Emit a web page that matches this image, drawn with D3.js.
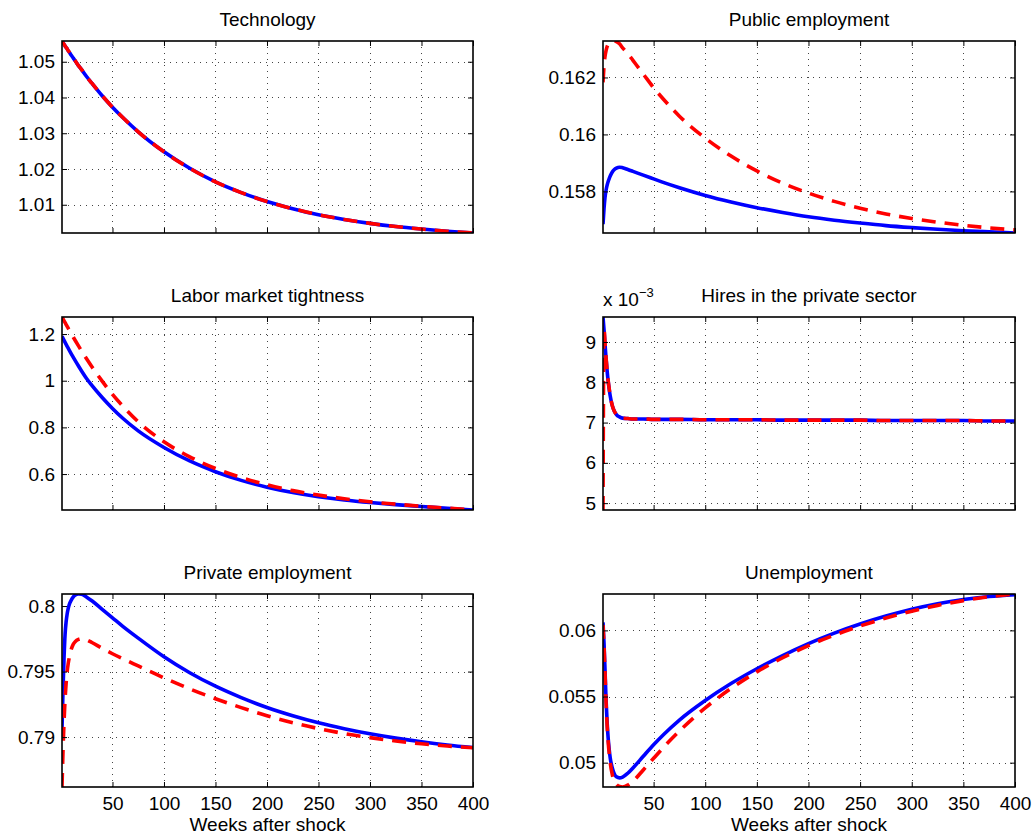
<!DOCTYPE html>
<html>
<head>
<meta charset="utf-8">
<script src="https://cdn.jsdelivr.net/npm/d3@7"></script>
<style>
  body { margin: 0; background: #fff; }
  svg text { font-family: "Liberation Sans", Arial, Helvetica, sans-serif; fill: #000; }
</style>
</head>
<body>
<svg id="chart" width="1032" height="836"></svg>
<script>
// Impulse responses over 400 weeks: solid = baseline model, dashed = alternative model
const weeks = [1, 2, 3, 4, 5, 6, 7, 8, 10, 12, 14, 17, 20, 25, 30, 40, 50, 60, 75, 100,
  125, 150, 175, 200, 225, 250, 275, 300, 325, 350, 375, 400];

const technologySolid = [1.0558, 1.0553, 1.0549, 1.0544, 1.0540, 1.0536, 1.0531, 1.0527, 1.0518, 1.0510,
  1.0502, 1.0489, 1.0478, 1.0458, 1.0440, 1.0405, 1.0373, 1.0344, 1.0304, 1.0248,
  1.0202, 1.0164, 1.0134, 1.0109, 1.0089, 1.0072, 1.0059, 1.0048, 1.0039, 1.0032, 1.0026, 1.0021];
const technologyDashed = [1.0558, 1.0553, 1.0549, 1.0544, 1.0540, 1.0536, 1.0531, 1.0527, 1.0518, 1.0510,
  1.0502, 1.0489, 1.0478, 1.0458, 1.0440, 1.0405, 1.0373, 1.0344, 1.0304, 1.0248,
  1.0202, 1.0164, 1.0134, 1.0109, 1.0089, 1.0072, 1.0059, 1.0048, 1.0039, 1.0032, 1.0026, 1.0021];

const publicSolid = [0.15685, 0.15740, 0.15780, 0.15805, 0.15822, 0.15835, 0.15845, 0.15854, 0.15868, 0.15877,
  0.15882, 0.15885, 0.15883, 0.15877, 0.158705, 0.15857, 0.15844, 0.15831, 0.15813, 0.15786,
  0.15763, 0.15743, 0.15726, 0.15711, 0.15699, 0.15689, 0.15680, 0.15673, 0.15667, 0.15662, 0.15658, 0.15654];
const publicDashed = [0.16183, 0.16240, 0.16275, 0.16295, 0.16308, 0.16316, 0.16321, 0.16325, 0.16328, 0.16328,
  0.16326, 0.16318, 0.16304, 0.16284, 0.16260, 0.16212, 0.16164, 0.16122, 0.16064, 0.15987,
  0.15924, 0.15872, 0.15829, 0.15794, 0.15765, 0.15741, 0.15721, 0.15705, 0.15692, 0.15681, 0.15672, 0.15665];

const tightnessSolid = [1.1900, 1.1813, 1.1726, 1.1641, 1.1557, 1.1474, 1.1392, 1.1311, 1.1153, 1.0999,
  1.0849, 1.0630, 1.0419, 1.0085, 0.980, 0.928, 0.881, 0.839, 0.785, 0.714,
  0.656, 0.610, 0.573, 0.544, 0.521, 0.503, 0.489, 0.478, 0.469, 0.461, 0.453, 0.446];
const tightnessDashed = [1.2730, 1.2648, 1.2567, 1.2487, 1.2407, 1.2327, 1.2249, 1.2170, 1.2016, 1.1863,
  1.1713, 1.1493, 1.1277, 1.0930, 1.060, 0.998, 0.941, 0.891, 0.824, 0.738,
  0.674, 0.624, 0.585, 0.554, 0.529, 0.510, 0.494, 0.481, 0.471, 0.462, 0.454, 0.447];

const hiresSolid = [0.00962, 0.00930, 0.00893, 0.00858, 0.00828, 0.00803, 0.00783, 0.00766, 0.00742, 0.00728,
  0.00720, 0.00714, 0.00711, 0.00710, 0.00709, 0.00709, 0.00708, 0.00708, 0.00708, 0.00707,
  0.00707, 0.00707, 0.00706, 0.00706, 0.00706, 0.00706, 0.00705, 0.00705, 0.00705, 0.00705, 0.00704, 0.00704];
const hiresDashed = [0.00483, 0.00932, 0.00896, 0.00860, 0.00829, 0.00804, 0.00784, 0.00767, 0.00742, 0.00728,
  0.00720, 0.00714, 0.00711, 0.00710, 0.00709, 0.00709, 0.00708, 0.00708, 0.00708, 0.00707,
  0.00707, 0.00707, 0.00706, 0.00706, 0.00706, 0.00706, 0.00705, 0.00705, 0.00705, 0.00705, 0.00704, 0.00704];

const privateSolid = [0.79060, 0.79370, 0.79610, 0.79785, 0.79880, 0.79940, 0.79980, 0.80010, 0.80045, 0.80070,
  0.80085, 0.80092, 0.80090, 0.80068, 0.80040, 0.79975, 0.79910, 0.79845, 0.79755, 0.79613,
  0.79491, 0.79388, 0.79301, 0.79226, 0.79163, 0.79109, 0.79064, 0.79025, 0.78992, 0.78964, 0.78940, 0.78920];
const privateDashed = [0.78619, 0.78900, 0.79120, 0.79290, 0.79410, 0.79500, 0.79560, 0.79605, 0.79670, 0.79710,
  0.79730, 0.79745, 0.79750, 0.79742, 0.79722, 0.79677, 0.79636, 0.79598, 0.79543, 0.79452,
  0.79368, 0.79293, 0.79225, 0.79163, 0.79110, 0.79065, 0.79027, 0.78996, 0.78970, 0.78949, 0.78932, 0.78918];

const unemploymentSolid = [0.06060, 0.05900, 0.05690, 0.05470, 0.05305, 0.05185, 0.05100, 0.05035, 0.04960, 0.04915,
  0.04893, 0.04885, 0.04891, 0.04920, 0.04960, 0.05048, 0.05135, 0.05215, 0.05322, 0.05470,
  0.05598, 0.05710, 0.05810, 0.05900, 0.05979, 0.06048, 0.06108, 0.06160, 0.06202, 0.06234, 0.06256, 0.06270];
const unemploymentDashed = [0.06040, 0.05880, 0.05670, 0.05450, 0.05280, 0.05160, 0.05070, 0.05000, 0.04910, 0.04860,
  0.04835, 0.04820, 0.04816, 0.04830, 0.04860, 0.04945, 0.05033, 0.05119, 0.05239, 0.05414,
  0.05561, 0.05686, 0.05793, 0.05885, 0.05964, 0.06033, 0.06093, 0.06145, 0.06189, 0.06225, 0.06254, 0.06275];

// Tick values
const xTicks = [50, 100, 150, 200, 250, 300, 350, 400];
const technologyTicks = [1.01, 1.02, 1.03, 1.04, 1.05];
const publicTicks = [0.158, 0.160, 0.162];
const tightnessTicks = [0.6, 0.8, 1.0, 1.2];
const hiresTicks = [0.005, 0.006, 0.007, 0.008, 0.009];
const privateTicks = [0.790, 0.795, 0.800];
const unemploymentTicks = [0.050, 0.055, 0.060];

const panels = [
  { title: "Technology", solid: technologySolid, dashed: technologyDashed, ticks: technologyTicks, col: 0, row: 0 },
  { title: "Public employment", solid: publicSolid, dashed: publicDashed, ticks: publicTicks, col: 1, row: 0 },
  { title: "Labor market tightness", solid: tightnessSolid, dashed: tightnessDashed, ticks: tightnessTicks, col: 0, row: 1 },
  { title: "Hires in the private sector", solid: hiresSolid, dashed: hiresDashed, ticks: hiresTicks, col: 1, row: 1, exponent: -3 },
  { title: "Private employment", solid: privateSolid, dashed: privateDashed, ticks: privateTicks, col: 0, row: 2 },
  { title: "Unemployment", solid: unemploymentSolid, dashed: unemploymentDashed, ticks: unemploymentTicks, col: 1, row: 2 }
];

// Grid layout of the six axes
const columns = [[62, 473], [603, 1015]];
const rows = [[41, 233], [317, 510], [594, 787]];
const FONT = 19;

const svg = d3.select("#chart");
const trim = v => String(+v.toFixed(6));

panels.forEach((p, idx) => {
  const [x0, x1] = columns[p.col];
  const [y0, y1] = rows[p.row];
  const scale = p.exponent ? Math.pow(10, -p.exponent) : 1;

  const x = d3.scaleLinear().domain([1, 400]).range([x0, x1]);
  const y = d3.scaleLinear().domain(d3.extent(p.solid.concat(p.dashed))).range([y1, y0]);

  const g = svg.append("g");
  const clipId = "clip" + idx;
  g.append("clipPath").attr("id", clipId)
    .append("rect").attr("x", x0).attr("y", y0).attr("width", x1 - x0).attr("height", y1 - y0);

  // dotted grid
  const grid = g.append("g").attr("stroke", "#444").attr("stroke-width", 1)
    .attr("stroke-dasharray", "1,5").attr("shape-rendering", "crispEdges");
  grid.selectAll("line.vx").data(xTicks.filter(t => t < 400)).join("line")
    .attr("x1", d => Math.round(x(d)) + 0.5).attr("x2", d => Math.round(x(d)) + 0.5)
    .attr("y1", y0).attr("y2", y1);
  grid.selectAll("line.hy").data(p.ticks).join("line")
    .attr("y1", d => Math.round(y(d)) + 0.5).attr("y2", d => Math.round(y(d)) + 0.5)
    .attr("x1", x0).attr("x2", x1);

  // response curves
  const line = d3.line().x((d, i) => x(weeks[i])).y(d => y(d)).curve(d3.curveMonotoneX);
  const curves = g.append("g").attr("clip-path", `url(#${clipId})`).attr("fill", "none");
  curves.append("path").attr("d", line(p.solid))
    .attr("stroke", "#0000ff").attr("stroke-width", 3.6);
  curves.append("path").attr("d", line(p.dashed))
    .attr("stroke", "#ff0000").attr("stroke-width", 3.6).attr("stroke-dasharray", "14,9");

  // axes with inward ticks on all four sides
  const fmtY = v => trim(v * scale);
  const left = g.append("g").attr("transform", `translate(${x0},0)`)
    .call(d3.axisLeft(y).tickValues(p.ticks).tickSize(-5).tickPadding(7).tickFormat(fmtY));
  const right = g.append("g").attr("transform", `translate(${x1},0)`)
    .call(d3.axisRight(y).tickValues(p.ticks).tickSize(-5).tickFormat(""));
  const top = g.append("g").attr("transform", `translate(0,${y0})`)
    .call(d3.axisTop(x).tickValues(xTicks).tickSize(-5).tickFormat(""));
  const bottom = g.append("g").attr("transform", `translate(0,${y1})`)
    .call(d3.axisBottom(x).tickValues(xTicks).tickSize(-5).tickPadding(10)
      .tickFormat(p.row === 2 ? d3.format("d") : ""));
  [left, right, top, bottom].forEach(a => {
    a.select(".domain").remove();
    a.selectAll("line").attr("stroke", "#000").attr("stroke-width", 1);
    a.selectAll("text").attr("font-size", FONT).attr("font-family", null).attr("fill", "#000");
  });

  // box
  g.append("rect").attr("x", x0).attr("y", y0).attr("width", x1 - x0).attr("height", y1 - y0)
    .attr("fill", "none").attr("stroke", "#000").attr("stroke-width", 1.6);

  // title
  g.append("text").attr("x", (x0 + x1) / 2).attr("y", y0 - 15)
    .attr("text-anchor", "middle").attr("font-size", FONT).text(p.title);

  // exponent multiplier
  if (p.exponent) {
    const t = g.append("text").attr("x", x0).attr("y", y0 - 11).attr("font-size", FONT);
    t.append("tspan").text("x 10");
    t.append("tspan").attr("dy", -9).attr("font-size", 13).text("\u2212" + Math.abs(p.exponent));
  }

  // x-axis label on the bottom row
  if (p.row === 2) {
    g.append("text").attr("x", (x0 + x1) / 2).attr("y", 831)
      .attr("text-anchor", "middle").attr("font-size", FONT).text("Weeks after shock");
  }
});
</script>
</body>
</html>
